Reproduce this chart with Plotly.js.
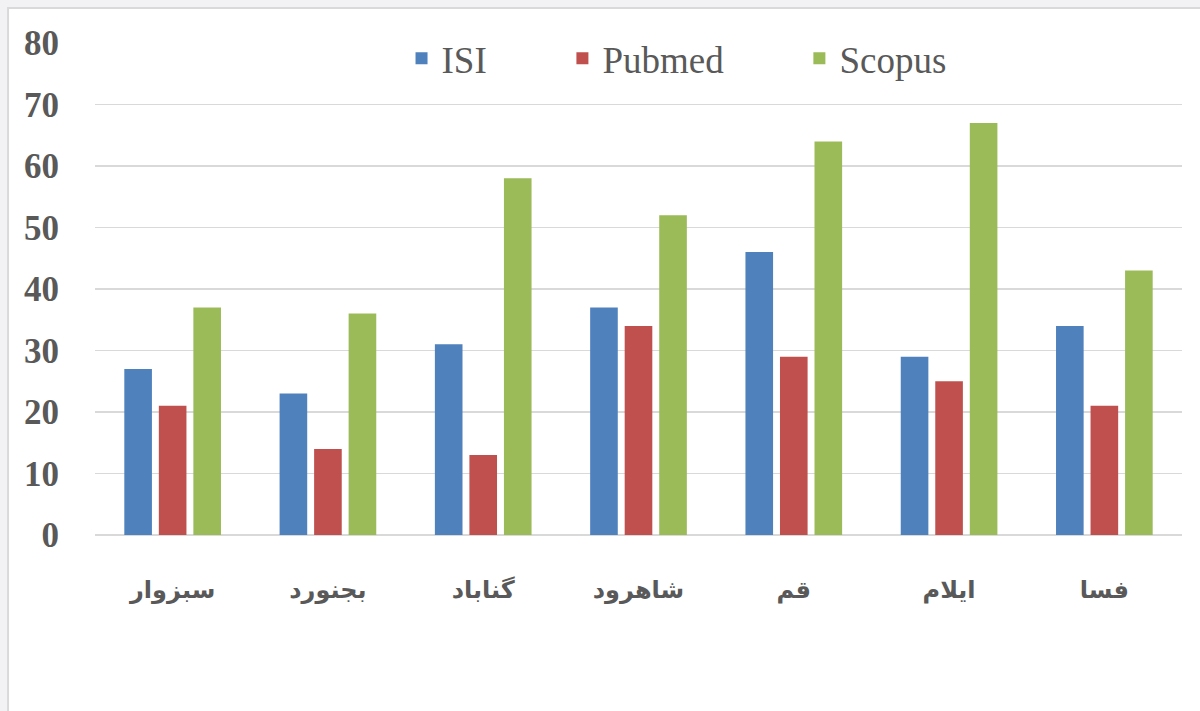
<!DOCTYPE html>
<html>
<head>
<meta charset="utf-8">
<script src="https://cdn.plot.ly/plotly-3.0.1.min.js"></script>
<style>html,body{margin:0;padding:0;background:#f2f2f4;}#chart{width:1200px;height:711px;}</style>
</head>
<body>
<div id="chart"></div>
<script>
const categories = ["سبزوار", "بجنورد", "گناباد", "شاهرود", "قم", "ایلام", "فسا"];
const isiValues = [27, 23, 31, 37, 46, 29, 34];
const pubmedValues = [21, 14, 13, 34, 29, 25, 21];
const scopusValues = [37, 36, 58, 52, 64, 67, 43];
const seriesNames = ["ISI", "Pubmed", "Scopus"];
const yTicks = [0, 10, 20, 30, 40, 50, 60, 70, 80];

const colors = ["#4F81BD", "#C0504D", "#9BBB59"];
const values = [isiValues, pubmedValues, scopusValues];
const legendIds = ["legend", "legend2", "legend3"];

const traces = seriesNames.map((n, i) => ({
  type: "bar",
  name: n,
  x: categories,
  y: values[i],
  marker: {color: colors[i], line: {width: 0}},
  legend: legendIds[i],
  hoverinfo: "x+y+name"
}));

const legendFont = {family: "Liberation Serif, Times New Roman, serif", size: 37, color: "#595959"};
function mkLegend(x) {
  return {x: x, xanchor: "left", y: 0.968, yanchor: "middle", orientation: "h",
          font: legendFont, bgcolor: "rgba(0,0,0,0)", borderwidth: 0};
}

const layout = {
  width: 1200, height: 711,
  margin: {l: 95, r: 18, t: 43, b: 176},
  paper_bgcolor: "#f2f2f4",
  plot_bgcolor: "rgba(0,0,0,0)",
  barmode: "group",
  bargap: 0.333,
  bargroupgap: 0.2,
  showlegend: true,
  legend: mkLegend(0.282),
  legend2: mkLegend(0.430),
  legend3: mkLegend(0.648),
  xaxis: {
    type: "category",
    showgrid: false,
    showline: false,
    zeroline: false,
    ticks: "outside",
    ticklen: 33,
    tickcolor: "rgba(0,0,0,0)",
    tickfont: {family: "DejaVu Sans, sans-serif", size: 24, color: "#595959", weight: "bold"}
  },
  yaxis: {
    range: [0, 80],
    tickvals: yTicks,
    showgrid: true,
    gridcolor: "#d9d9d9",
    gridwidth: 1.5,
    zeroline: true,
    zerolinecolor: "#d9d9d9",
    zerolinewidth: 1.5,
    showline: false,
    ticks: "outside",
    ticklen: 28,
    tickcolor: "rgba(0,0,0,0)",
    tickfont: {family: "Liberation Serif, Times New Roman, serif", size: 35, color: "#595959", weight: "bold"}
  },
  shapes: [{
    type: "rect", xref: "paper", yref: "paper", layer: "below",
    x0: -0.080, x1: 1.2, y0: -0.5, y1: 1.071,
    fillcolor: "#ffffff", line: {color: "#d9d9d9", width: 2}
  }]
};

Plotly.newPlot("chart", traces, layout, {displayModeBar: false, staticPlot: true});
</script>
</body>
</html>
